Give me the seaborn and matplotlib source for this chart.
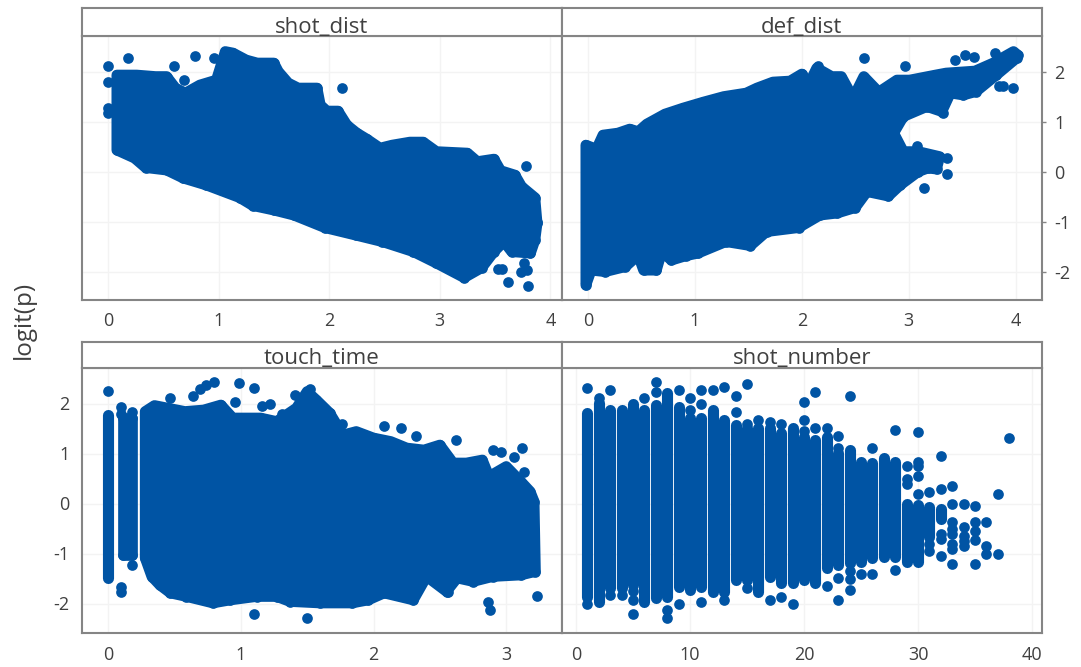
import numpy as np
import pandas as pd
import matplotlib
matplotlib.use("Agg")
import matplotlib.pyplot as plt
import seaborn as sns

BLUE = "#0054A4"
FRAME = "#858585"
TEXT = "#404040"
GRID = "#F3F3F3"

# ---- data -----------------------------------------------------------------
panel_names = ["shot_dist", "def_dist", "touch_time", "shot_number"]
y_ticks = [-2, -1, 0, 1, 2]

shot_upper_x = [.08, .26, .43, .53, .61, .70, .83, .98, 1.06, 1.13, 1.25, 1.35, 1.50, 1.54, 1.63, 1.72, 1.89, 1.92, 1.98, 2.08, 2.16, 2.25, 2.34, 2.46, 2.57, 2.73, 2.85, 2.97, 3.25, 3.34, 3.49, 3.55, 3.68, 3.74, 3.86, 3.88]
shot_upper_y = [1.93, 1.93, 1.90, 1.90, 1.67, 1.57, 1.73, 1.83, 2.40, 2.37, 2.23, 2.17, 2.17, 2.0, 1.77, 1.67, 1.67, 1.33, 1.21, 1.21, .93, .77, .65, .47, .53, .59, .59, .40, .37, .20, .25, .02, -.07, -.30, -.52, -1.03]
shot_lower_x = [.08, .24, .34, .53, .68, .89, 1.19, 1.31, 1.50, 1.68, 1.96, 2.24, 2.48, 2.76, 2.97, 3.22, 3.38, 3.49, 3.58, 3.65, 3.82, 3.86]
shot_lower_y = [.43, .27, .08, .03, -.13, -.27, -.52, -.68, -.77, -.87, -1.12, -1.27, -1.40, -1.60, -1.83, -2.12, -1.92, -1.60, -1.40, -1.60, -1.63, -1.37]
shot_single_x = [0, 0, 0, 0, .18, .60, .69, .79, .96, 2.12, 3.78, 3.53, 3.56, 3.62, 3.80, 3.76, 3.73, 3.79, 3.88]
shot_single_y = [2.12, 1.80, 1.27, 1.17, 2.28, 2.12, 1.83, 2.31, 2.28, 1.68, .12, -1.95, -1.95, -2.2, -2.28, -1.83, -2.0, -1.97, -1.0]

def_outline_x = [-.02, .08, .14, .28, .39, .47, .55, .72, .89, 1.08, 1.27, 1.48, 1.58, 1.73, 1.89, 2.00, 2.06, 2.14, 2.28, 2.37, 2.48, 2.58, 2.72, 2.89, 3.01, 3.25, 3.35, 3.62, 3.79, 3.98, 4.02, 4.01, 3.82, 3.63, 3.51, 3.39, 3.31, 3.17, 2.95, 2.86, 2.95, 3.09, 3.29, 3.26, 3.18, 3.09, 2.92, 2.81, 2.61, 2.5, 2.33, 2.17, 1.97, 1.67, 1.52, 1.29, 1.03, .92, .78, .69, .64, .52, .47, .35, .16, .03, -.02]
def_outline_y = [.53, .45, .73, .77, .85, .80, .95, 1.15, 1.27, 1.39, 1.50, 1.57, 1.67, 1.79, 1.81, 1.95, 1.72, 2.07, 1.90, 1.90, 1.47, 1.90, 1.59, 1.83, 1.83, 1.93, 1.97, 2.01, 2.17, 2.40, 2.33, 2.27, 1.93, 1.6, 1.53, 1.57, 1.2, 1.3, 1.1, .77, .40, .40, .30, .05, .07, 0, -.27, -.49, -.4, -.72, -.83, -.87, -1.12, -1.2, -1.48, -1.40, -1.63, -1.68, -1.77, -1.6, -1.97, -1.97, -1.67, -1.9, -2.0, -1.97, -2.27]
def_single_x = [2.58, 2.97, 3.43, 3.53, 3.61, 3.81, 3.84, 3.88, 3.98, 3.36, 3.36, 3.14, 3.32, 3.08, 2.15, 2.0]
def_single_y = [2.28, 2.12, 2.23, 2.33, 2.29, 2.37, 1.72, 1.72, 1.68, .28, -.04, -.33, 1.17, .52, 2.12, 1.95]

touch_col_x = [0.0]
touch_col_top = [1.77]
touch_col_bottom = [-1.49]
touch_block_x = [.11, .181, .181, .11]
touch_block_y = [1.71, 1.71, -1.03, -1.03]
touch_upper_x = [.28, .35, .58, .72, .85, .94, 1.15, 1.27, 1.42, 1.50, 1.57, 1.67, 1.77, 1.87, 2.0, 2.13, 2.25, 2.38, 2.5, 2.6, 2.7, 2.82, 2.87, 3.0, 3.11, 3.18, 3.21]
touch_upper_y = [1.84, 1.96, 1.84, 1.87, 1.97, 1.71, 1.71, 1.64, 1.91, 2.24, 2.07, 1.81, 1.37, 1.44, 1.31, 1.24, 1.11, 1.07, 1.17, .81, .81, .87, .54, .74, .44, .24, .04]
touch_lower_x = [.28, .33, .39, .47, .59, .79, .92, 1.12, 1.27, 1.37, 1.6, 1.84, 1.96, 2.08, 2.3, 2.4, 2.55, 2.63, 2.75, 2.9, 3.11, 3.22]
touch_lower_y = [-1.09, -1.46, -1.63, -1.79, -1.86, -1.99, -1.93, -1.86, -1.86, -1.96, -1.99, -1.99, -1.93, -1.79, -1.93, -1.46, -1.76, -1.49, -1.56, -1.46, -1.43, -1.36]
touch_single_x = [0, .10, .10, .18, .18, .10, .10, .47, .64, .69, .74, .80, .99, 1.10, .96, 1.16, 1.22, 1.31, 1.41, 1.52, 1.76, 2.08, 2.21, 2.32, 2.62, 2.9, 2.96, 3.12, 3.13, 3.06, 3.23, 2.86, 2.88, 1.10, 1.5, 2.56]
touch_single_y = [2.25, 1.94, 1.8, 1.84, -1.23, -1.66, -1.76, 2.11, 2.16, 2.29, 2.37, 2.44, 2.41, 2.32, 2.04, 1.95, 1.99, 1.79, 2.17, 2.29, 1.59, 1.55, 1.51, 1.35, 1.27, 1.07, 1.03, 1.11, .64, .93, -1.84, -1.96, -2.13, -2.21, -2.28, -1.77]

number_col_x = list(range(1, 33))
number_col_top = [1.81, 2.01, 1.87, 1.87, 1.99, 1.87, 1.97, 2.21, 1.94, 1.71, 1.71, 1.87, 1.67, 1.57, 1.51, 1.51, 1.51, 1.41, 1.51, 1.34, 1.27, 1.34, 1.01, 1.07, .84, .81, .91, .84, 0, -.03, -.06, -.1]
number_col_bottom = [-1.86, -1.96, -1.69, -1.69, -1.63, -1.96, -1.89, -1.86, -1.66, -1.73, -1.66, -1.76, -1.76, -1.53, -1.53, -1.76, -1.46, -1.59, -1.59, -1.53, -1.59, -1.29, -1.23, -1.19, -1.16, -1.09, -1.06, -1.06, -1.16, -1.16, -.66, -.3]
number_single_x = [1, 1, 2, 3, 3, 4, 5, 5, 5, 6, 7, 7, 8, 8, 9, 9, 10, 10, 11, 11, 11, 12, 13, 13, 14, 14, 15, 15, 15, 16, 17, 17, 18, 18, 19, 20, 20, 20, 21, 21, 22, 22, 23, 23, 23, 23, 24, 24, 24, 24, 25, 26, 26, 28, 28, 29, 29, 29, 30, 30, 30, 30, 30, 31, 31, 31, 32, 32, 32, 32, 32, 33, 33, 33, 33, 33, 33, 33, 33, 34, 34, 34, 34, 34, 35, 35, 35, 35, 35, 36, 36, 36, 37, 37, 38]
number_single_y = [2.32, -2.01, 2.11, 2.27, -1.83, -1.83, -1.75, -1.93, -2.21, 2.12, 2.44, 2.24, -2.13, -2.29, 2.27, -2.01, 2.12, 1.87, 2.27, 2.0, -1.97, 2.27, 2.33, -1.93, 2.16, 1.84, 2.39, 1.59, -1.69, 1.67, 1.64, -1.93, 1.59, -1.87, -2.01, 2.03, 1.67, 1.45, 2.23, 1.51, 1.51, -1.65, 1.35, 1.11, -1.49, -1.93, 2.15, -1.35, -1.5, -1.73, -1.4, 1.11, -1.41, 1.47, -1.32, .75, .5, .4, 1.43, .84, .75, .55, .2, .23, -.8, -.95, .95, .29, -.6, -.7, -1.05, 0, .35, -.37, -.5, -.6, -.8, -.9, -1.2, 0, -.47, -.65, -.75, -.85, -.05, -.37, -.55, -.73, -1.2, -.37, -.85, -1.0, -1.0, .2, 1.31]

# ---- layout ---------------------------------------------------------------
W, H = 1081, 667
sns.set_theme(style="whitegrid")
plt.rcParams["font.family"] = ["Open Sans", "DejaVu Sans"]
fig = plt.figure(figsize=(W / 100, H / 100), dpi=100, facecolor="white")


def box(x0, y0, x1, y1):
    return [x0 / W, 1 - y1 / H, (x1 - x0) / W, (y1 - y0) / H]


layout = [
    (82, 562, 8, 35.5, 299.7, (-.235, 4.105), (-2.56, 2.72), [0, 1, 2, 3, 4], .30),
    (562, 1041.7, 8, 35.5, 299.7, (-.243, 4.244), (-2.56, 2.72), [0, 1, 2, 3, 4], .30),
    (82, 562, 342, 368, 633, (-.196, 3.42), (-2.59, 2.71), [0, 1, 2, 3], .36),
    (562, 1041.7, 342, 368, 633, (-1.23, 40.85), (-2.59, 2.71), [0, 10, 20, 30, 40], .36),
]
axes = []
for name, (x0, x1, s0, s1, y1, xlim, ylim, xt, label_y) in zip(panel_names, layout):
    ax = fig.add_axes(box(x0, s1, x1, y1))
    ax.set_xlim(*xlim)
    ax.set_ylim(*ylim)
    ax.set_xticks(xt)
    ax.set_yticks(y_ticks)
    ax.set_yticklabels([str(v) for v in y_ticks])
    ax.grid(True, color=GRID, lw=1.0)
    ax.set_axisbelow(True)
    for sp in ax.spines.values():
        sp.set_color(FRAME)
        sp.set_linewidth(1.5)
    ax.tick_params(axis="both", length=3, width=1, color=FRAME, labelcolor=TEXT, labelsize=13, pad=6)
    strip = fig.add_axes(box(x0, s0, x1, s1))
    strip.set_xticks([])
    strip.set_yticks([])
    strip.grid(False)
    for sp in strip.spines.values():
        sp.set_color(FRAME)
        sp.set_linewidth(1.5)
    strip.text(.5, label_y, name, ha="center", va="center", transform=strip.transAxes, fontsize=16, color=TEXT)
    axes.append(ax)

axes[0].tick_params(axis="y", left=False, labelleft=False)
axes[1].tick_params(axis="y", left=False, labelleft=False, right=True, labelright=True)
axes[3].tick_params(axis="y", left=False, labelleft=False)

DIAM = 7.7  # marker diameter in points
COLUMN = 8.0  # width of the stacked marker columns in points


def single(ax, x, y):
    sns.scatterplot(data=pd.DataFrame({"x": x, "y": y}), x="x", y="y", ax=ax, color=BLUE, s=DIAM ** 2, linewidth=0, zorder=3, legend=False)


def mass(ax, x, y):
    ax.fill(x, y, facecolor=BLUE, edgecolor=BLUE, lw=DIAM, joinstyle="round", zorder=2)
    single(ax, x, y)


def columns(ax, x, top, bottom):
    lc = ax.vlines(x, bottom, top, colors=BLUE, lw=COLUMN, zorder=2)
    lc.set_capstyle("round")


mass(axes[0], shot_upper_x + shot_lower_x[::-1], shot_upper_y + shot_lower_y[::-1])
single(axes[0], shot_single_x, shot_single_y)

mass(axes[1], def_outline_x, def_outline_y)
single(axes[1], def_single_x, def_single_y)

columns(axes[2], touch_col_x, touch_col_top, touch_col_bottom)
mass(axes[2], touch_block_x, touch_block_y)
mass(axes[2], touch_upper_x + touch_lower_x[::-1], touch_upper_y + touch_lower_y[::-1])
single(axes[2], touch_single_x, touch_single_y)

columns(axes[3], number_col_x, number_col_top, number_col_bottom)
single(axes[3], number_single_x, number_single_y)

for ax in axes:
    ax.set_xlabel("")
    ax.set_ylabel("")

fig.text(24 / W, 1 - 320 / H, "logit(p)", rotation=90, ha="center", va="center", fontsize=17.5, color=TEXT)
fig.savefig("out.png", dpi=100, facecolor="white")
